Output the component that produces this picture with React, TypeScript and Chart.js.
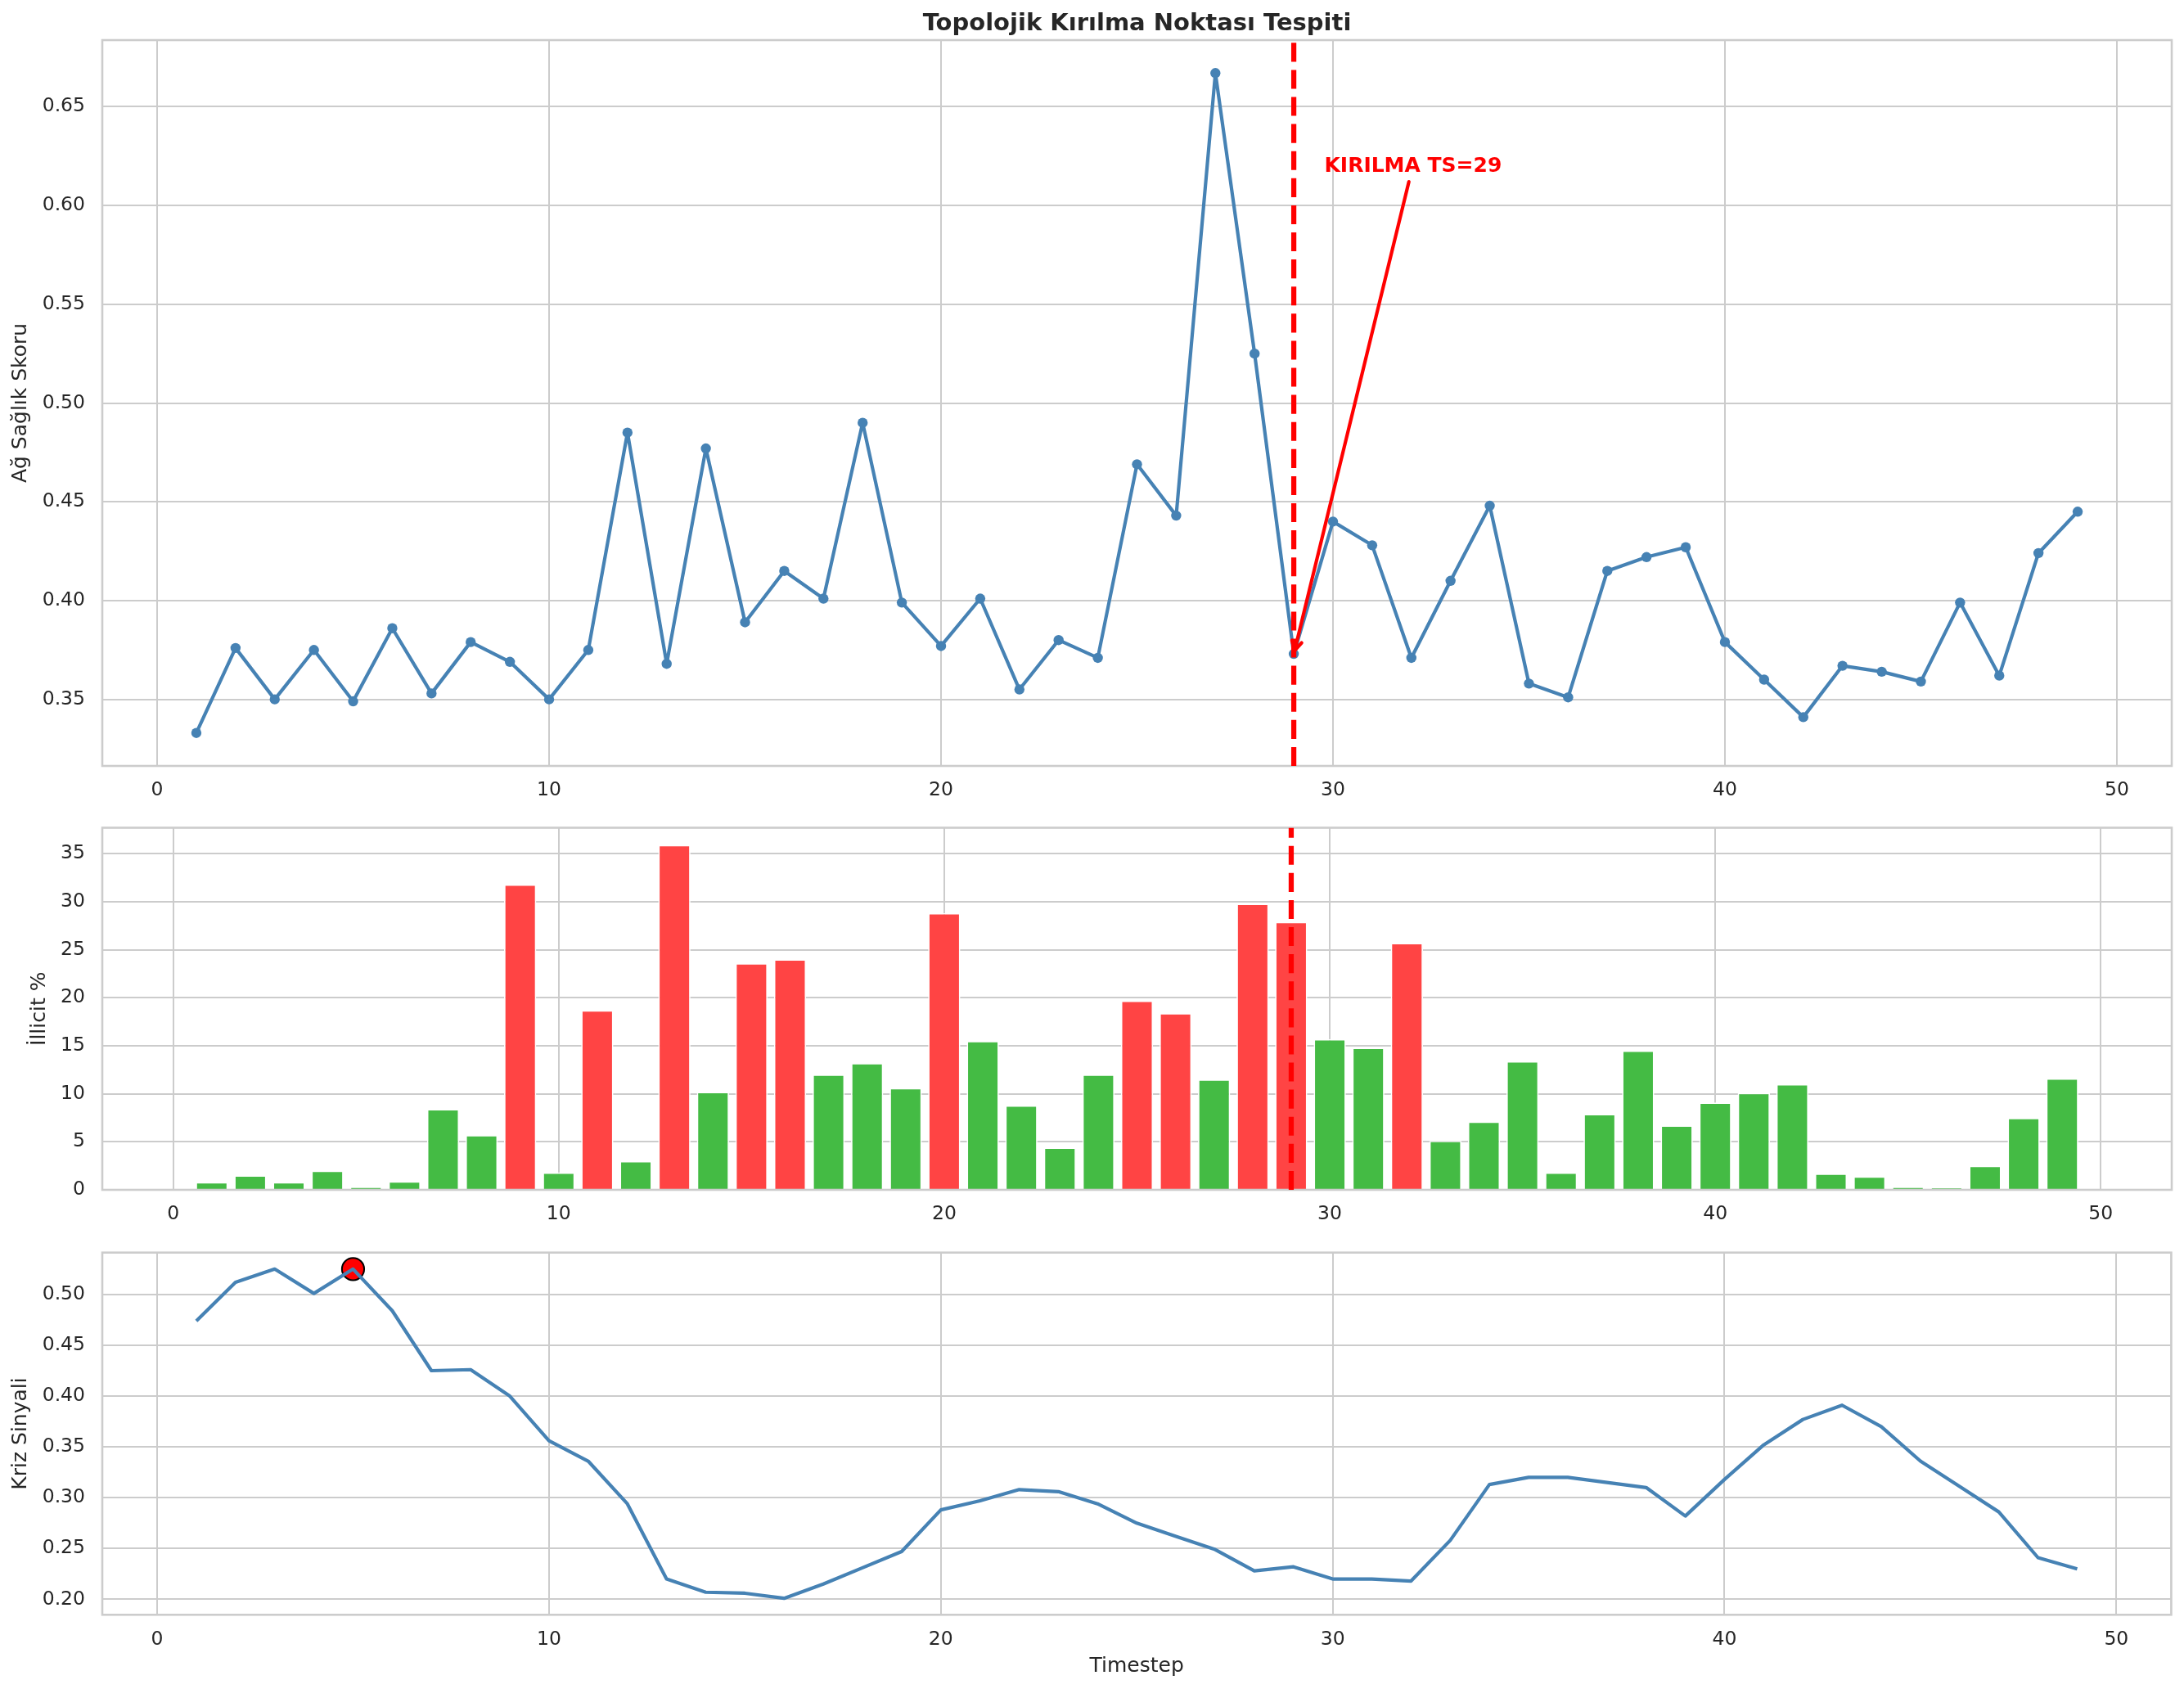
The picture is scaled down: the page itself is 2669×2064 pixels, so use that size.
import React, { useEffect, useRef } from 'react';
import { Chart, registerables } from 'chart.js';

Chart.register(...registerables);

// ---------------- data ----------------
const timesteps = [
  1, 2, 3, 4, 5, 6, 7, 8, 9, 10, 11, 12, 13, 14, 15, 16, 17, 18, 19, 20, 21, 22, 23, 24, 25,
  26, 27, 28, 29, 30, 31, 32, 33, 34, 35, 36, 37, 38, 39, 40, 41, 42, 43, 44, 45, 46, 47, 48, 49,
];

const healthScore = [
  0.333, 0.376, 0.350, 0.375, 0.349, 0.386, 0.353, 0.379, 0.369, 0.350,
  0.375, 0.485, 0.368, 0.477, 0.389, 0.415, 0.401, 0.490, 0.399, 0.377,
  0.401, 0.355, 0.380, 0.371, 0.469, 0.443, 0.667, 0.525, 0.373, 0.440,
  0.428, 0.371, 0.410, 0.448, 0.358, 0.351, 0.415, 0.422, 0.427, 0.379,
  0.360, 0.341, 0.367, 0.364, 0.359, 0.399, 0.362, 0.424, 0.445,
];

const illicitPct = [
  0.8, 1.5, 0.8, 2.0, 0.3, 0.9, 8.4, 5.7, 31.8, 1.8,
  18.7, 3.0, 35.9, 10.2, 23.6, 24.0, 12.0, 13.2, 10.6, 28.8,
  15.5, 8.8, 4.4, 12.0, 19.7, 18.4, 11.5, 29.8, 27.9, 15.7,
  14.8, 25.7, 5.1, 7.1, 13.4, 1.8, 7.9, 14.5, 6.7, 9.1,
  10.1, 11.0, 1.7, 1.4, 0.3, 0.2, 2.5, 7.5, 11.6,
];

const crisisSignal = [
  0.474, 0.512, 0.525, 0.501, 0.525, 0.484, 0.425, 0.426, 0.400, 0.356,
  0.336, 0.294, 0.220, 0.207, 0.206, 0.201, 0.215, 0.231, 0.247, 0.288,
  0.297, 0.308, 0.306, 0.294, 0.275, 0.262, 0.249, 0.228, 0.232, 0.220,
  0.220, 0.218, 0.258, 0.313, 0.320, 0.320, 0.315, 0.310, 0.282, 0.318,
  0.352, 0.377, 0.391, 0.370, 0.336, 0.311, 0.286, 0.241, 0.230,
];

const breakTs = 29;
const crisisPeakTs = 5;
const illicitThreshold = 17;

const xTicks = [0, 10, 20, 30, 40, 50];
const healthTicks = [0.35, 0.4, 0.45, 0.5, 0.55, 0.6, 0.65];
const illicitTicks = [0, 5, 10, 15, 20, 25, 30, 35];
const crisisTicks = [0.2, 0.25, 0.3, 0.35, 0.4, 0.45, 0.5];

const titleText = 'Topolojik Kırılma Noktası Tespiti';
const healthLabel = 'Ağ Sağlık Skoru';
const illicitLabel = 'İllicit %';
const crisisLabel = 'Kriz Sinyali';
const xLabel = 'Timestep';
const annotationText = `KIRILMA TS=${breakTs}`;
const annotationTextX = 29.78;
const annotationTextY = 0.617;

// ---------------- style ----------------
const W = 2669;
const H = 2064;
const FONT = "'DejaVu Sans', sans-serif";
const TEXT = '#262626';
const GRID = '#cccccc';
const BLUE = '#4682b4';
const RED_BAR = '#ff4444';
const GREEN_BAR = '#44bb44';
const TICK_SIZE = 23.5;
const LABEL_SIZE = 25;
const TITLE_SIZE = 29;
const ANNOT_SIZE = 25;
const BAR_WIDTH = 0.8;

const P1 = { top: 0, height: 985, areaTop: 49, areaBottom: 936 };
const P2 = { top: 985, height: 520, areaTop: 26.5, areaBottom: 469 };
const P3 = { top: 1505, height: 559, areaTop: 25.7, areaBottom: 468.3 };

function padRange(lo: number, hi: number): [number, number] {
  const r = hi - lo;
  return [lo - 0.05 * r, hi + 0.05 * r];
}

function xScaleCfg(range: [number, number], axisHeight: number, title?: any) {
  return {
    type: 'linear',
    min: range[0],
    max: range[1],
    offset: false,
    grid: { color: GRID, lineWidth: 2, drawTicks: false, offset: false },
    border: { display: false },
    ticks: {
      font: { family: FONT, size: TICK_SIZE },
      color: TEXT,
      padding: 16,
      maxRotation: 0,
      autoSkip: false,
      callback: (v: any) => String(v),
    },
    afterBuildTicks: (s: any) => {
      s.ticks = xTicks.map((v) => ({ value: v }));
    },
    afterFit: (s: any) => {
      s.height = axisHeight;
      s.paddingLeft = 0;
      s.paddingRight = 0;
    },
    title: title || { display: false },
  };
}

function yScaleCfg(range: [number, number], ticks: number[], decimals: number, label: string, labelPad: number) {
  return {
    type: 'linear',
    min: range[0],
    max: range[1],
    grid: { color: GRID, lineWidth: 2, drawTicks: false },
    border: { display: false },
    ticks: {
      font: { family: FONT, size: TICK_SIZE },
      color: TEXT,
      padding: 21,
      autoSkip: false,
      callback: (v: any) => Number(v).toFixed(decimals),
    },
    afterBuildTicks: (s: any) => {
      s.ticks = ticks.map((v) => ({ value: v }));
    },
    afterFit: (s: any) => {
      s.width = 125;
      s.paddingTop = 0;
      s.paddingBottom = 0;
    },
    title: {
      display: true,
      text: label,
      color: TEXT,
      font: { family: FONT, size: LABEL_SIZE },
      padding: { top: labelPad, bottom: 0 },
    },
  };
}

const framePlugin = {
  id: 'frame',
  afterDatasetsDraw(chart: any) {
    const { ctx, chartArea: a } = chart;
    ctx.save();
    ctx.strokeStyle = GRID;
    ctx.lineWidth = 2.6;
    ctx.strokeRect(a.left, a.top, a.right - a.left, a.bottom - a.top);
    ctx.restore();
  },
};

function drawBreakLine(chart: any) {
  const { ctx, chartArea: a } = chart;
  const x = chart.scales.x.getPixelForValue(breakTs);
  ctx.save();
  ctx.beginPath();
  ctx.rect(a.left, a.top, a.right - a.left, a.bottom - a.top);
  ctx.clip();
  ctx.strokeStyle = '#ff0000';
  ctx.lineWidth = 6.25;
  ctx.lineCap = 'butt';
  ctx.setLineDash([23.1, 10]);
  ctx.beginPath();
  ctx.moveTo(x, a.bottom);
  ctx.lineTo(x, a.top);
  ctx.stroke();
  ctx.restore();
}

const breakPlugin = {
  id: 'breakLine',
  afterDatasetsDraw(chart: any) {
    drawBreakLine(chart);
  },
};

const titleAnnotPlugin = {
  id: 'titleAnnot',
  afterDatasetsDraw(chart: any) {
    const { ctx, chartArea: a } = chart;
    const xs = chart.scales.x;
    const ys = chart.scales.y;
    ctx.save();
    // title
    ctx.fillStyle = TEXT;
    ctx.font = `bold ${TITLE_SIZE}px ${FONT}`;
    ctx.textAlign = 'center';
    ctx.textBaseline = 'alphabetic';
    ctx.fillText(titleText, (a.left + a.right) / 2, 37);

    // annotation text
    ctx.fillStyle = '#ff0000';
    ctx.font = `bold ${ANNOT_SIZE}px ${FONT}`;
    ctx.textAlign = 'left';
    const tx = xs.getPixelForValue(annotationTextX);
    const ty = ys.getPixelForValue(annotationTextY);
    ctx.fillText(annotationText, tx, ty);
    const tw = ctx.measureText(annotationText).width;

    // arrow
    const cx = tx + tw / 2;
    const cy = ty - 9;
    const px = xs.getPixelForValue(breakTs);
    const py = ys.getPixelForValue(healthScore[timesteps.indexOf(breakTs)]);
    const dx = px - cx;
    const dy = py - cy;
    const len = Math.hypot(dx, dy);
    const ux = dx / len;
    const uy = dy / len;
    const sy = ty + 12;
    const sx = cx + ux * ((sy - cy) / uy);
    const ex = px - ux * 4;
    const ey = py - uy * 4;
    ctx.strokeStyle = '#ff0000';
    ctx.lineWidth = 4.2;
    ctx.lineCap = 'round';
    ctx.beginPath();
    ctx.moveTo(sx, sy);
    ctx.lineTo(ex, ey);
    ctx.stroke();
    const ang = Math.atan2(uy, ux);
    const hl = 13;
    const ha = (28 * Math.PI) / 180;
    ctx.beginPath();
    ctx.moveTo(ex - hl * Math.cos(ang - ha), ey - hl * Math.sin(ang - ha));
    ctx.lineTo(ex, ey);
    ctx.lineTo(ex - hl * Math.cos(ang + ha), ey - hl * Math.sin(ang + ha));
    ctx.stroke();
    ctx.restore();
  },
};

const baseOptions = {
  responsive: false,
  animation: false,
  devicePixelRatio: 1,
  plugins: { legend: { display: false }, tooltip: { enabled: false }, title: { display: false } },
  events: [],
};

export default function App() {
  const c1 = useRef<HTMLCanvasElement>(null);
  const c2 = useRef<HTMLCanvasElement>(null);
  const c3 = useRef<HTMLCanvasElement>(null);

  useEffect(() => {
    document.body.style.margin = '0';
    const xLineRange = padRange(Math.min(...timesteps), Math.max(...timesteps));
    const xBarRange = padRange(Math.min(...timesteps) - BAR_WIDTH / 2, Math.max(...timesteps) + BAR_WIDTH / 2);
    const healthRange = padRange(Math.min(...healthScore), Math.max(...healthScore));
    const crisisRange = padRange(Math.min(...crisisSignal), Math.max(...crisisSignal));
    const illicitRange: [number, number] = [0, Math.max(...illicitPct) * 1.05];

    const chart1 = new Chart(c1.current as HTMLCanvasElement, {
      type: 'line',
      data: {
        datasets: [
          {
            data: timesteps.map((t, i) => ({ x: t, y: healthScore[i] })),
            borderColor: BLUE,
            borderWidth: 4.2,
            borderJoinStyle: 'round',
            pointRadius: 6.2,
            pointBackgroundColor: BLUE,
            pointBorderWidth: 0,
            tension: 0,
          },
        ],
      },
      options: {
        ...baseOptions,
        layout: { padding: { top: P1.areaTop, left: 0, right: 15, bottom: 0 } },
        scales: {
          x: xScaleCfg(xLineRange, P1.height - P1.areaBottom),
          y: yScaleCfg(healthRange, healthTicks, 2, healthLabel, 10),
        },
      } as any,
      plugins: [framePlugin, breakPlugin, titleAnnotPlugin],
    } as any);

    const chart2 = new Chart(c2.current as HTMLCanvasElement, {
      type: 'bar',
      data: {
        datasets: [
          {
            data: timesteps.map((t, i) => ({ x: t, y: illicitPct[i] })),
            backgroundColor: illicitPct.map((v) => (v > illicitThreshold ? RED_BAR : GREEN_BAR)),
            borderColor: '#ffffff',
            borderWidth: 1.7,
            borderSkipped: 'start',
            barPercentage: 1,
            categoryPercentage: 0.836,
          },
        ],
      },
      options: {
        ...baseOptions,
        layout: { padding: { top: P2.areaTop, left: 0, right: 15, bottom: 0 } },
        scales: {
          x: xScaleCfg(xBarRange, P2.height - P2.areaBottom),
          y: yScaleCfg(illicitRange, illicitTicks, 0, illicitLabel, 33),
        },
      } as any,
      plugins: [framePlugin, breakPlugin],
    } as any);

    const chart3 = new Chart(c3.current as HTMLCanvasElement, {
      type: 'line',
      data: {
        datasets: [
          {
            data: timesteps.map((t, i) => ({ x: t, y: crisisSignal[i] })),
            borderColor: BLUE,
            borderWidth: 4.2,
            borderJoinStyle: 'round',
            pointRadius: 0,
            tension: 0,
          },
          {
            data: [{ x: crisisPeakTs, y: crisisSignal[timesteps.indexOf(crisisPeakTs)] }],
            showLine: false,
            pointRadius: 13.6,
            pointBackgroundColor: '#ff0000',
            pointBorderColor: '#000000',
            pointBorderWidth: 2,
            clip: false,
          },
        ],
      },
      options: {
        ...baseOptions,
        layout: { padding: { top: P3.areaTop, left: 0, right: 15, bottom: 0 } },
        scales: {
          x: xScaleCfg(xLineRange, P3.height - P3.areaBottom, {
            display: true,
            text: xLabel,
            color: TEXT,
            font: { family: FONT, size: LABEL_SIZE },
            padding: { top: 0, bottom: 13 },
          }),
          y: yScaleCfg(crisisRange, crisisTicks, 2, crisisLabel, 10),
        },
      } as any,
      plugins: [framePlugin],
    } as any);

    return () => {
      chart1.destroy();
      chart2.destroy();
      chart3.destroy();
    };
  }, []);

  const canvasStyle = (top: number, height: number): React.CSSProperties => ({
    position: 'absolute',
    left: 0,
    top,
    width: W,
    height,
  });

  return (
    <div style={{ position: 'absolute', left: 0, top: 0, width: W, height: H, background: '#ffffff', overflow: 'hidden' }}>
      <canvas ref={c1} width={W} height={P1.height} style={canvasStyle(P1.top, P1.height)} />
      <canvas ref={c2} width={W} height={P2.height} style={canvasStyle(P2.top, P2.height)} />
      <canvas ref={c3} width={W} height={P3.height} style={canvasStyle(P3.top, P3.height)} />
    </div>
  );
}
